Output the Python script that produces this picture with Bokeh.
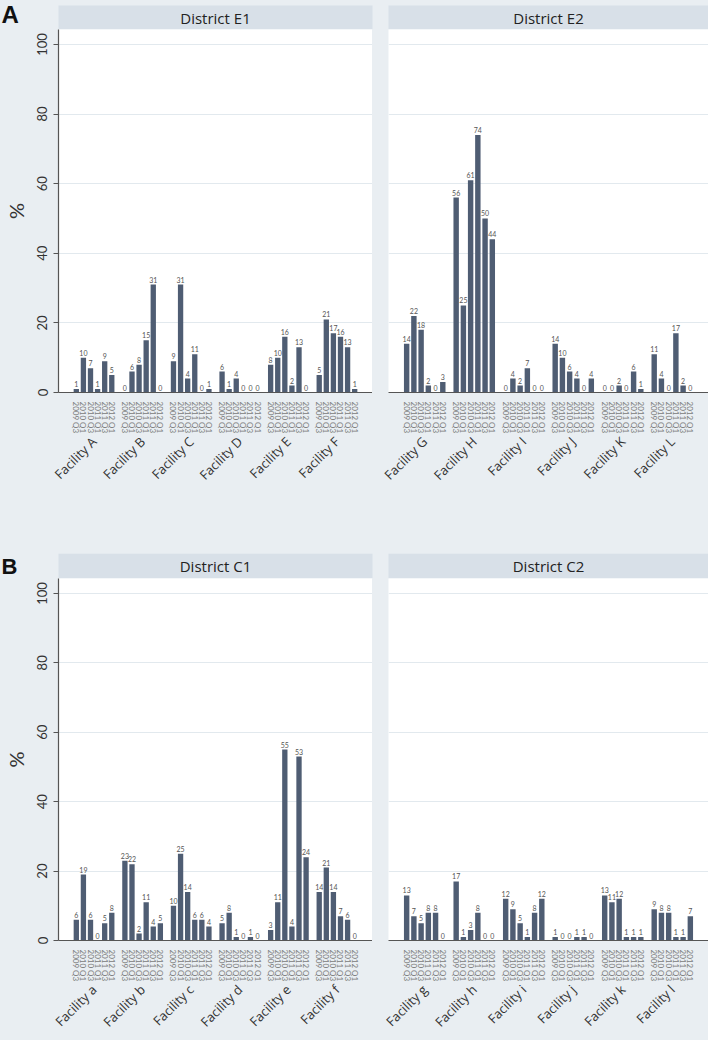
import math
from bokeh.plotting import figure
from bokeh.layouts import column, row
from bokeh.models import ColumnDataSource, FactorRange, Range1d, FixedTicker
from bokeh.core.properties import value
from bokeh.embed import file_html
from bokeh.resources import INLINE

# ---------------- data ----------------
quarters = ["2009 Q3", "2010 Q1", "2010 Q3", "2011 Q1", "2011 Q3", "2012 Q1"]

e1_facilities = ["Facility A", "Facility B", "Facility C", "Facility D", "Facility E", "Facility F"]
e1_values = [
    [1, 10, 7, 1, 9, 5],
    [0, 6, 8, 15, 31, 0],
    [9, 31, 4, 11, 0, 1],
    [6, 1, 4, 0, 0, 0],
    [8, 10, 16, 2, 13, 0],
    [5, 21, 17, 16, 13, 1],
]

e2_facilities = ["Facility G", "Facility H", "Facility I", "Facility J", "Facility K", "Facility L"]
e2_values = [
    [14, 22, 18, 2, 0, 3],
    [56, 25, 61, 74, 50, 44],
    [0, 4, 2, 7, 0, 0],
    [14, 10, 6, 4, 0, 4],
    [0, 0, 2, 0, 6, 1],
    [11, 4, 0, 17, 2, 0],
]

c1_facilities = ["Facility a", "Facility b", "Facility c", "Facility d", "Facility e", "Facility f"]
c1_values = [
    [6, 19, 6, 0, 5, 8],
    [23, 22, 2, 11, 4, 5],
    [10, 25, 14, 6, 6, 4],
    [5, 8, 1, 0, 1, 0],
    [3, 11, 55, 4, 53, 24],
    [14, 21, 14, 7, 6, 0],
]

c2_facilities = ["Facility g", "Facility h", "Facility i", "Facility j", "Facility k", "Facility l"]
c2_values = [
    [13, 7, 5, 8, 8, 0],
    [17, 1, 3, 8, 0, 0],
    [12, 9, 5, 1, 8, 12],
    [1, 0, 0, 1, 1, 0],
    [13, 11, 12, 1, 1, 1],
    [9, 8, 8, 1, 1, 7],
]

y_ticks = [0, 20, 40, 60, 80, 100]

# ---------------- style ----------------
BG = "#E9EEF2"
HEADER = "#D8E0E8"
BAR = "#4F5D73"
GRID = "#E2E9EE"
AXIS = "#555555"
FONT = "Lato"
HFONT = "Open Sans"

TOTAL_W = 708
LEFT_W = 372
LEFT_BORDER = 58
RIGHT_BORDER = 16
RIGHT_W = TOTAL_W - LEFT_W


def bar_fig(facs, vals, ytop, width, height, bl, bb, with_yaxis):
    factors = [(f, q) for f in facs for q in quarters]
    flat = [v for r in vals for v in r]
    src = ColumnDataSource(dict(x=factors, y=flat, lab=[str(v) for v in flat]))
    xr = FactorRange(*factors, group_padding=0.85, factor_padding=0.0,
                     range_padding=0.1, range_padding_units="percent")
    p = figure(x_range=xr, y_range=Range1d(0, ytop), width=width, height=height,
               output_backend="svg", toolbar_location=None,
               y_axis_location="left" if with_yaxis else None,
               min_border_left=bl, min_border_right=0, min_border_top=0,
               min_border_bottom=bb,
               background_fill_color="white", border_fill_color=BG,
               outline_line_color=None)
    p.vbar(x="x", top="y", width=0.75, source=src, fill_color=BAR, line_color=None)
    p.text(x="x", y="y", text="lab", source=src, text_align="center",
           text_baseline="bottom", y_offset=-2, text_font_size="7px",
           text_color="#555555", text_font=value(FONT))

    p.xgrid.grid_line_color = None
    for g in p.ygrid:
        g.ticker = FixedTicker(ticks=y_ticks[1:])
        g.grid_line_color = GRID
        g.grid_line_width = 1

    xa = p.xaxis[0]
    xa.major_label_orientation = "vertical"
    xa.major_label_text_font_size = "8px"
    xa.major_label_text_font = FONT
    xa.major_label_text_color = "#7a7a7a"
    xa.major_label_standoff = 3
    xa.major_tick_line_color = None
    xa.minor_tick_line_color = None
    xa.axis_line_color = AXIS
    xa.axis_line_width = 1.2
    xa.separator_line_color = None
    xa.group_label_orientation = math.pi / 4
    xa.group_text_font_size = "13px"
    xa.group_text_font = HFONT
    xa.group_text_font_style = "normal"
    xa.group_text_color = "#333333"

    if with_yaxis:
        ya = p.yaxis[0]
        ya.ticker = FixedTicker(ticks=y_ticks)
        ya.major_label_orientation = "vertical"
        ya.major_label_text_font_size = "13px"
        ya.major_label_text_font = FONT
        ya.major_label_text_color = "#333333"
        ya.major_label_standoff = 6
        ya.major_tick_out = 5
        ya.major_tick_in = 0
        ya.major_tick_line_color = AXIS
        ya.minor_tick_line_color = None
        ya.axis_line_color = AXIS
        ya.axis_line_width = 1.2
        ya.axis_label = "%"
        ya.axis_label_text_font = FONT
        ya.axis_label_text_font_size = "20px"
        ya.axis_label_text_font_style = "normal"
        ya.axis_label_text_color = "#333333"
        ya.axis_label_standoff = 7
    return p


def header_fig(letter, titles, height, band_h, letter_top, letter_size):
    p = figure(width=TOTAL_W, height=height, x_range=Range1d(0, TOTAL_W),
               y_range=Range1d(0, height), output_backend="svg",
               toolbar_location=None, min_border=0,
               x_axis_location=None, y_axis_location=None,
               background_fill_color=BG, border_fill_color=BG,
               outline_line_color=None)
    p.grid.visible = False
    lefts = [LEFT_BORDER, LEFT_W + RIGHT_BORDER]
    rights = [LEFT_W, TOTAL_W]
    p.quad(left=lefts, right=rights, bottom=0, top=band_h,
           fill_color=HEADER, line_color=None)
    p.text(x=[(l + r) / 2 for l, r in zip(lefts, rights)], y=[band_h / 2] * 2,
           text=titles, text_align="center", text_baseline="middle",
           text_font=value(HFONT), text_font_size="15px", text_color="#222222")
    p.text(x=[1], y=[letter_top], text=[letter], text_baseline="top",
           text_align="left", text_font=value("Liberation Sans"),
           text_font_style="bold", text_font_size=letter_size, text_color="#111111")
    return p


hdr_a = header_fig("A", ["District E1", "District E2"], 29, 24, 29, "24px")
fig_e1 = bar_fig(e1_facilities, e1_values, 104.3, LEFT_W, 524, LEFT_BORDER, 161, True)
fig_e2 = bar_fig(e2_facilities, e2_values, 104.3, RIGHT_W, 524, RIGHT_BORDER, 161, False)

hdr_b = header_fig("B", ["District C1", "District C2"], 25, 25, 25, "22px")
fig_c1 = bar_fig(c1_facilities, c1_values, 104.3, LEFT_W, 462, LEFT_BORDER, 97, True)
fig_c2 = bar_fig(c2_facilities, c2_values, 104.3, RIGHT_W, 462, RIGHT_BORDER, 97, False)

p = column(hdr_a, row(fig_e1, fig_e2, spacing=0), hdr_b, row(fig_c1, fig_c2, spacing=0),
           spacing=0, styles={"background-color": BG})

open("out.html", "w").write(file_html(p, INLINE))
